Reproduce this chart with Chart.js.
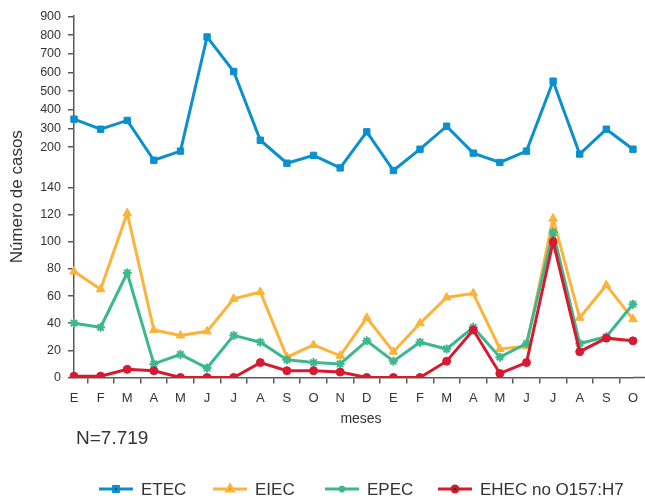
<!DOCTYPE html>
<html>
<head>
  <meta charset="UTF-8">
  <title>Casos por mes</title>
  <script src="https://cdn.jsdelivr.net/npm/chart.js@4"></script>
  <style>
    body { margin: 0; background: #fff; }
  </style>
</head>
<body>
  <canvas id="line-chart" width="645" height="502"></canvas>
  <script>
    // meses (dos años seguidos, enero a octubre)
    var meses = ['E','F','M','A','M','J','J','A','S','O','N','D','E','F','M','A','M','J','J','A','S','O'];

    var etec = [350, 296, 343, 130, 179, 790, 605, 237, 114, 156, 89, 282, 75, 189, 312, 168, 118, 179, 553, 163, 296, 189];
    var eiec = [78, 65, 121, 35, 31, 34, 58, 63, 15, 24, 16, 44, 19, 40, 59, 62, 21, 23, 117, 44, 68, 43];
    var epec = [40, 37, 77, 10, 17, 7, 31, 26, 13, 11, 10, 27, 12, 26, 21, 37, 15, 25, 107, 25, 30, 54];
    var ehec = [1, 1, 6, 5, 0, 0, 0, 11, 5, 5, 4, 0, 0, 0, 12, 35, 3, 11, 100, 19, 29, 27];

    var ticksBajo = [0, 20, 40, 60, 80, 100, 120, 140];
    var ticksAlto = [200, 300, 400, 500, 600, 700, 800, 900];

    // eje cortado: tramo bajo lineal, tramo alto comprimido
    var BASE_ALTO = 169.7;
    var ESCALA_ALTO = 0.1376;
    function posBajo(v) { return v; }
    function posAlto(v) { return BASE_ALTO + (v - 200) * ESCALA_ALTO; }

    var FUENTE = "'Liberation Sans', Arial, sans-serif";
    var GRIS = '#5a5a5a';
    var TEXTO = '#333333';

    var etiquetasY = ticksBajo.concat(ticksAlto);
    var posicionesY = ticksBajo.map(posBajo).concat(ticksAlto.map(posAlto));

    var series = [
      { label: 'ETEC', data: etec.map(posAlto), color: '#0a8fcf', punto: 'rect', radio: 4.5, order: 3 },
      { label: 'EIEC', data: eiec.map(posBajo), color: '#fbb33a', punto: 'triangle', radio: 5, order: 2 },
      { label: 'EPEC', data: epec.map(posBajo), color: '#3cb88e', punto: 'star', radio: 4.5, order: 1 },
      { label: 'EHEC no O157:H7', data: ehec.map(posBajo), color: '#d71a30', punto: 'circle', radio: 4, order: 0 }
    ];

    var extras = {
      id: 'extras',
      afterDraw: function(chart) {
        var ctx = chart.ctx;
        var area = chart.chartArea;
        ctx.save();
        // prolongar eje x hasta el borde
        ctx.strokeStyle = GRIS;
        ctx.lineWidth = 1.5;
        ctx.beginPath();
        ctx.moveTo(area.right, area.bottom);
        ctx.lineTo(chart.width, area.bottom);
        ctx.stroke();

        ctx.fillStyle = TEXTO;
        ctx.textBaseline = 'middle';
        ctx.textAlign = 'center';
        ctx.font = '14px ' + FUENTE;
        ctx.fillText('meses', 361, 419);

        ctx.textAlign = 'left';
        ctx.textBaseline = 'alphabetic';
        ctx.font = '19px ' + FUENTE;
        ctx.fillText('N=7.719', 76, 444);

        // leyenda
        var inicios = [99, 213, 325, 438];
        var y = 489;
        ctx.font = '17px ' + FUENTE;
        ctx.textBaseline = 'middle';
        chart.data.datasets.forEach(function(ds, i) {
          var x = inicios[i];
          ctx.strokeStyle = ds.borderColor;
          ctx.lineWidth = 3;
          ctx.beginPath();
          ctx.moveTo(x, y);
          ctx.lineTo(x + 34, y);
          ctx.stroke();
          Chart.helpers.drawPoint(ctx, {
            pointStyle: ds.pointStyle, radius: ds.pointRadius * 0.75, borderWidth: 1.5, rotation: 0
          }, x + 17, y);
          ctx.fillStyle = TEXTO;
          ctx.fillText(ds.label, x + 42, y + 1);
        });
        ctx.restore();
      }
    };

    new Chart(document.getElementById('line-chart'), {
      type: 'line',
      data: {
        labels: meses,
        datasets: series.map(function(s) {
          return {
            label: s.label,
            data: s.data,
            borderColor: s.color,
            backgroundColor: s.color,
            pointBackgroundColor: s.color,
            pointBorderColor: s.color,
            pointStyle: s.punto,
            pointRadius: s.radio,
            pointBorderWidth: s.punto === 'star' ? 2 : 1,
            borderWidth: 3,
            tension: 0,
            order: s.order
          };
        })
      },
      options: {
        responsive: false,
        animation: false,
        layout: { padding: { top: 16, right: 11, bottom: 0, left: 0 } },
        plugins: {
          legend: { display: false },
          tooltip: { enabled: false }
        },
        scales: {
          x: {
            offset: false,
            grid: {
              display: true, offset: true, drawOnChartArea: false,
              drawTicks: true, tickLength: 6, color: GRIS, lineWidth: 1.5
            },
            border: { display: true, color: GRIS, width: 1.5 },
            ticks: {
              autoSkip: false, maxRotation: 0, padding: 7,
              color: TEXTO, font: { family: FUENTE, size: 13 }
            },
            afterFit: function(scale) { scale.height = 124.5; }
          },
          y: {
            min: 0,
            max: posAlto(900) + 0.3,
            grid: {
              display: true, drawOnChartArea: false,
              drawTicks: true, tickLength: 6, color: GRIS, lineWidth: 1.5
            },
            border: { display: true, color: GRIS, width: 1.5 },
            afterBuildTicks: function(scale) {
              scale.ticks = posicionesY.map(function(p) { return { value: p }; });
            },
            ticks: {
              padding: 7, color: TEXTO, font: { family: FUENTE, size: 12.5 },
              callback: function(value, index) { return String(etiquetasY[index]); }
            },
            title: {
              display: true, text: 'Número de casos', color: TEXTO,
              font: { family: FUENTE, size: 17 }, padding: { top: 7, bottom: 0 }
            },
            afterFit: function(scale) { scale.width = 74; }
          }
        }
      },
      plugins: [extras]
    });
  </script>
</body>
</html>
